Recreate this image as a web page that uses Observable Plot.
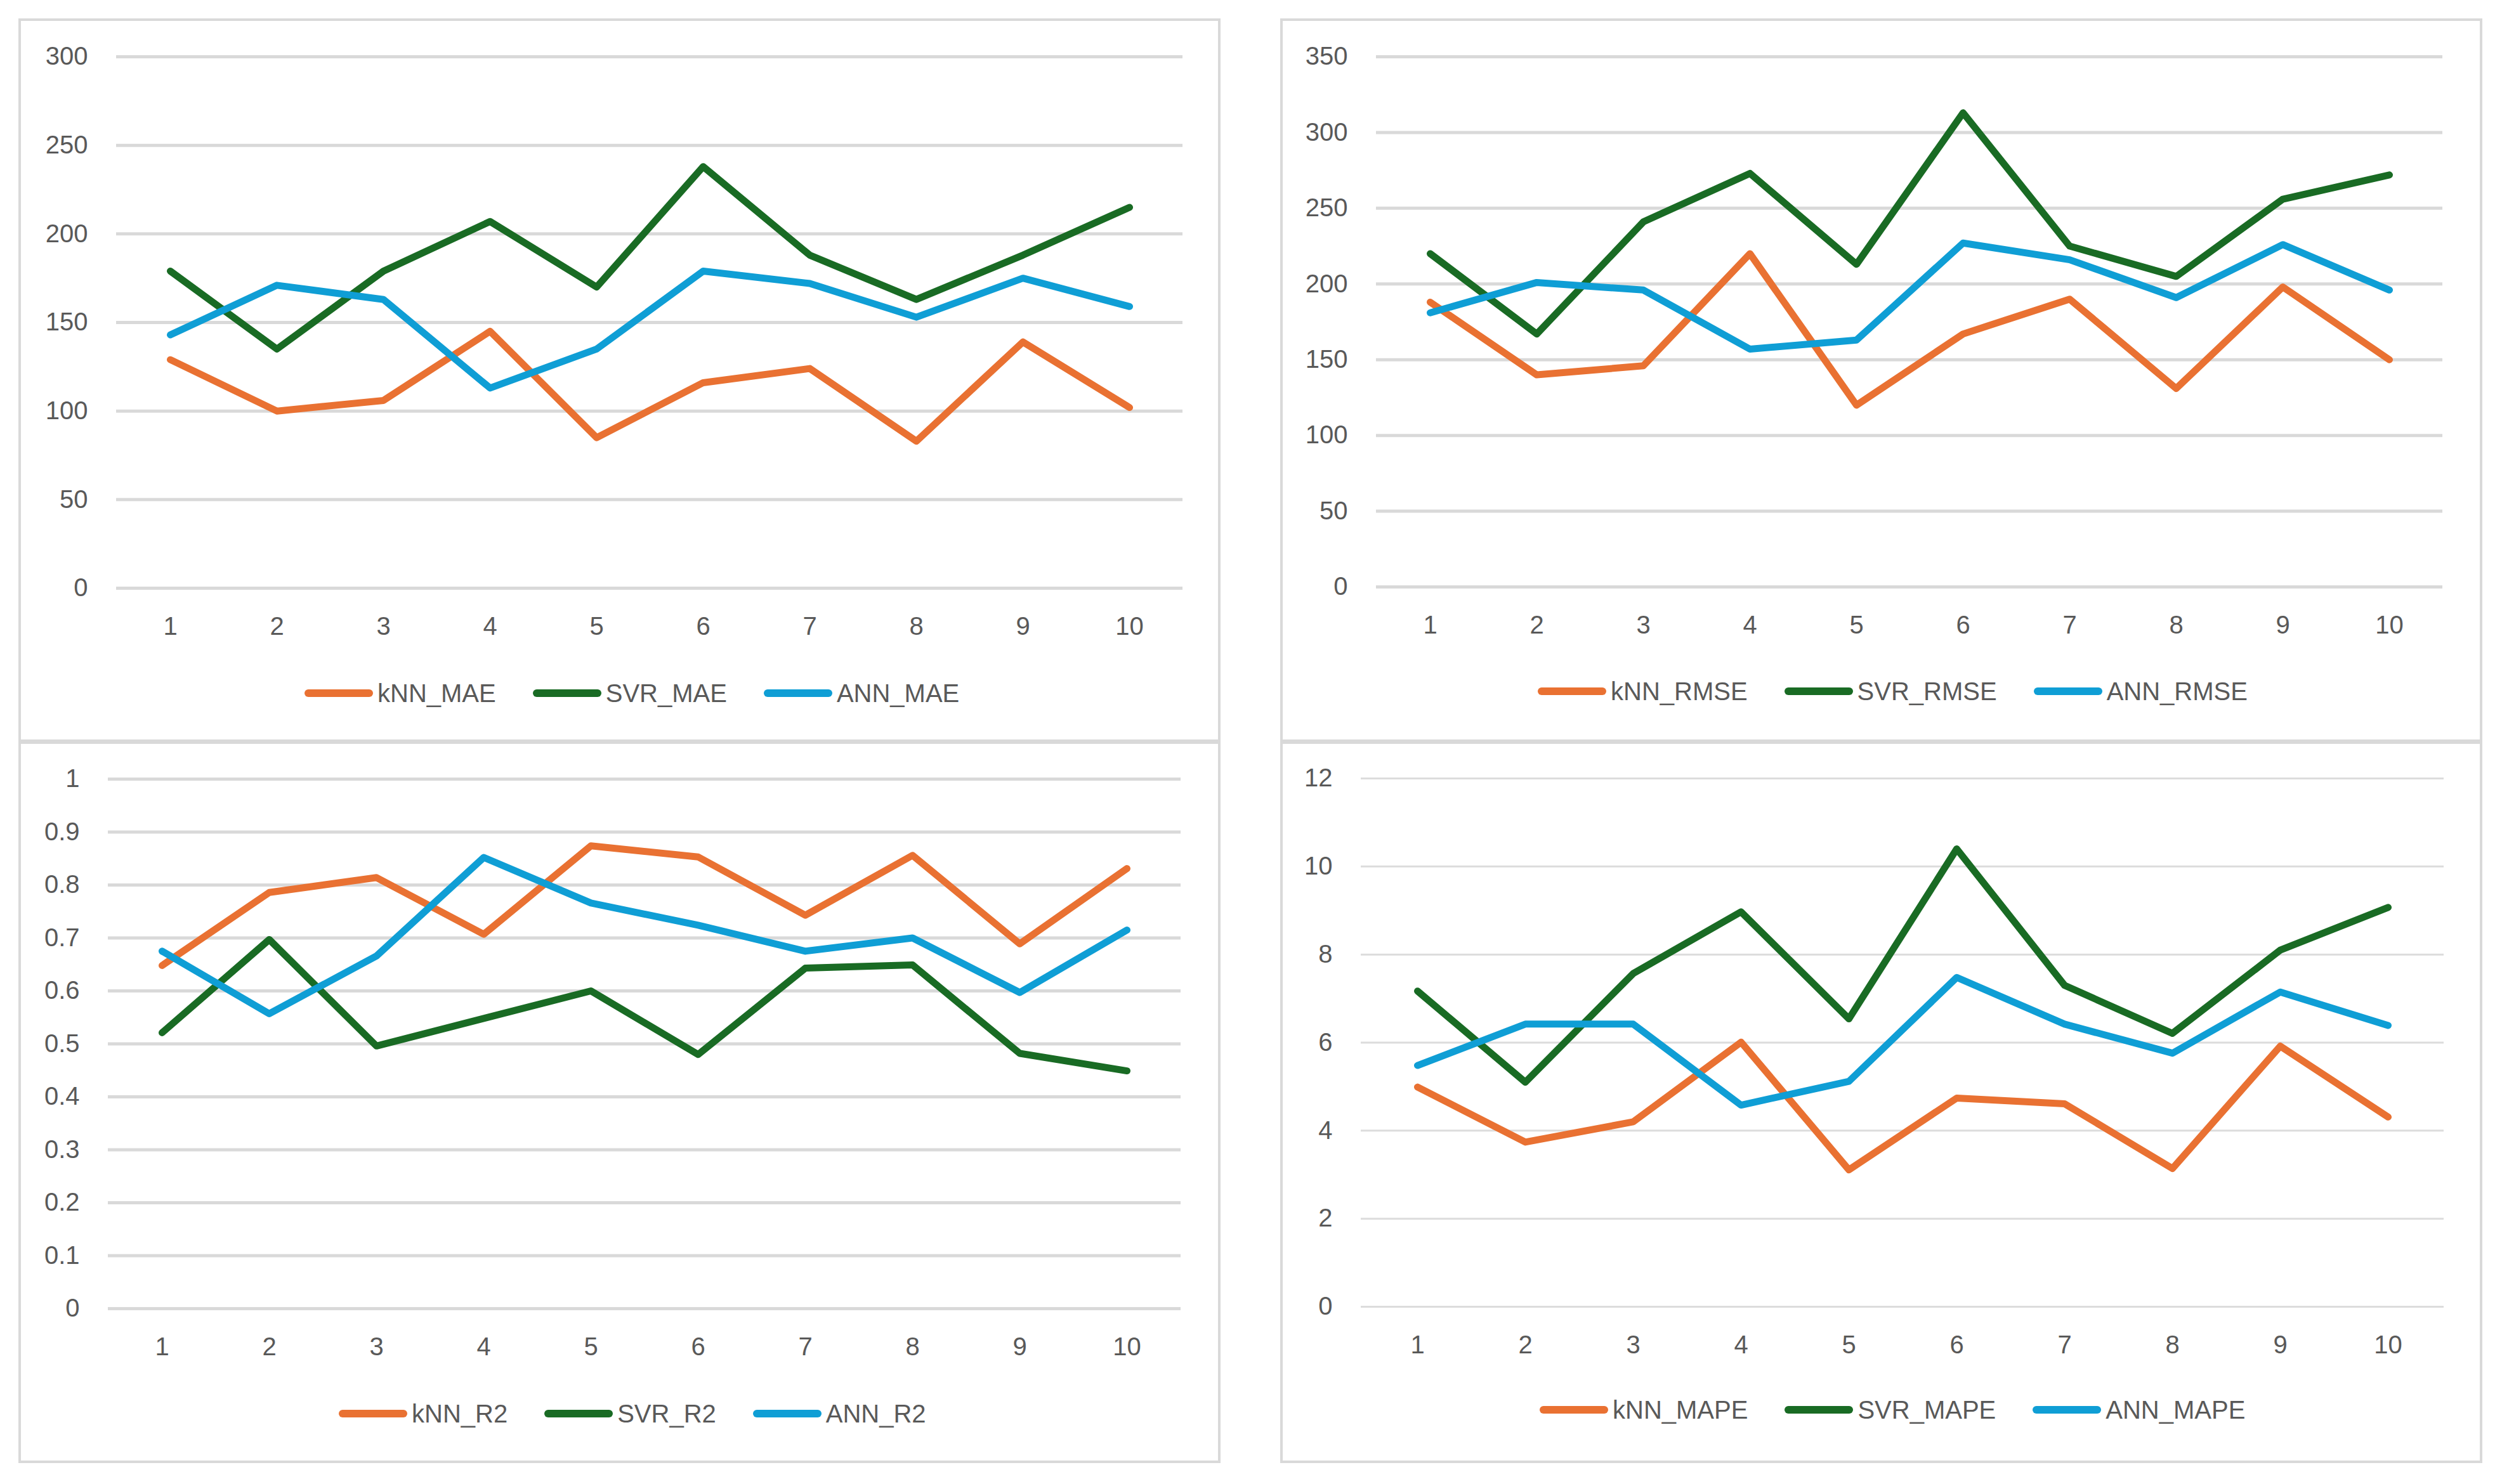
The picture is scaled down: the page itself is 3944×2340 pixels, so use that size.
<!DOCTYPE html>
<html>
<head>
<meta charset="utf-8">
<script src="https://cdn.jsdelivr.net/npm/d3@7"></script>
<script src="https://cdn.jsdelivr.net/npm/@observablehq/plot@0.6"></script>
<style>
  html, body { margin: 0; padding: 0; background: #ffffff; }
  #page { position: relative; width: 3944px; height: 2340px; background: #ffffff; overflow: hidden;
          font-family: "Liberation Sans", Arial, sans-serif; }
  .frame { position: absolute; box-sizing: border-box; border: 4px solid #d9d9d9; }
  .plotbox { position: absolute; }
  .legend { position: absolute; display: flex; align-items: center; height: 50px;
            font-size: 40px; color: #595959; white-space: nowrap; }
  .sw { display: inline-block; width: 108px; height: 12px; border-radius: 6px; margin-right: 7px; }
  .item { display: flex; align-items: center; margin-right: 58px; }
</style>
</head>
<body>
<div id="page"></div>
<script>
// ---------- data ----------
const runs = [1, 2, 3, 4, 5, 6, 7, 8, 9, 10];

const kNN_MAE = [129, 100, 106, 145, 85, 116, 124, 83, 139, 102];
const SVR_MAE = [179, 135, 179, 207, 170, 238, 188, 163, 188, 215];
const ANN_MAE = [143, 171, 163, 113, 135, 179, 172, 153, 175, 159];

const kNN_RMSE = [188, 140, 146, 220, 120, 167, 190, 131, 198, 150];
const SVR_RMSE = [220, 167, 241, 273, 213, 313, 225, 205, 256, 272];
const ANN_RMSE = [181, 201, 196, 157, 163, 227, 216, 191, 226, 196];

const kNN_R2 = [0.648, 0.786, 0.814, 0.707, 0.874, 0.853, 0.743, 0.856, 0.689, 0.831];
const SVR_R2 = [0.521, 0.697, 0.496, 0.548, 0.600, 0.480, 0.643, 0.649, 0.482, 0.449];
const ANN_R2 = [0.675, 0.557, 0.666, 0.852, 0.766, 0.724, 0.675, 0.700, 0.597, 0.715];

const kNN_MAPE = [4.99, 3.74, 4.20, 6.01, 3.11, 4.74, 4.61, 3.14, 5.92, 4.31];
const SVR_MAPE = [7.17, 5.10, 7.57, 8.97, 6.54, 10.40, 7.30, 6.21, 8.10, 9.07];
const ANN_MAPE = [5.48, 6.42, 6.42, 4.58, 5.12, 7.48, 6.42, 5.76, 7.15, 6.39];

const ticksMAE = [0, 50, 100, 150, 200, 250, 300];
const ticksRMSE = [0, 50, 100, 150, 200, 250, 300, 350];
const ticksR2 = [0, 0.1, 0.2, 0.3, 0.4, 0.5, 0.6, 0.7, 0.8, 0.9, 1];
const ticksMAPE = [0, 2, 4, 6, 8, 10, 12];

const models = ["kNN", "SVR", "ANN"];
const colors = ["#E97132", "#196B24", "#0F9ED5"];

// ---------- layout ----------
const panels = [
  { metric: "MAE", series: [kNN_MAE, SVR_MAE, ANN_MAE], ticks: ticksMAE,
    box: [29, 29, 1895, 1141], ml: 154, mr: 60, mt: 60, mb: 102, legend: [480, 1068], grid: [5, "#d9d9d9"] },
  { metric: "RMSE", series: [kNN_RMSE, SVR_RMSE, ANN_RMSE], ticks: ticksRMSE,
    box: [2018, 29, 1895, 1141], ml: 151, mr: 63, mt: 60, mb: 104, legend: [2424, 1065], grid: [5, "#d9d9d9"] },
  { metric: "R2", series: [kNN_R2, SVR_R2, ANN_R2], ticks: ticksR2,
    box: [29, 1169, 1895, 1138], ml: 141, mr: 63, mt: 59, mb: 106, legend: [534, 2204], grid: [5, "#d9d9d9"] },
  { metric: "MAPE", series: [kNN_MAPE, SVR_MAPE, ANN_MAPE], ticks: ticksMAPE,
    box: [2018, 1169, 1895, 1138], ml: 127, mr: 61, mt: 58, mb: 109, legend: [2427, 2198], grid: [3, "#dcdcdc"] }
];

const page = document.getElementById("page");

for (const p of panels) {
  const [left, top, w, h] = p.box;
  const frame = document.createElement("div");
  frame.className = "frame";
  Object.assign(frame.style, { left: left + "px", top: top + "px", width: w + "px", height: h + "px" });
  page.appendChild(frame);

  const rows = [];
  p.series.forEach((vals, i) => {
    vals.forEach((v, j) => rows.push({ model: models[i], run: runs[j], value: v, order: i }));
  });
  const ymax = p.ticks[p.ticks.length - 1];

  const chart = Plot.plot({
    width: w,
    height: 1000,
    marginLeft: p.ml,
    marginRight: p.mr,
    marginTop: p.mt,
    marginBottom: p.mb,
    style: { fontSize: "40px", fontFamily: "'Liberation Sans', Arial, sans-serif", color: "#595959", background: "transparent", overflow: "visible" },
    x: { type: "point", domain: runs, padding: 0.5 },
    y: { domain: [0, ymax], nice: false },
    color: { domain: models, range: colors },
    marks: [
      Plot.ruleY(p.ticks, { stroke: p.grid[1], strokeWidth: p.grid[0] }),
      Plot.axisY({ ticks: p.ticks, tickSize: 0, tickPadding: 45, tickFormat: d => String(d), label: null }),
      Plot.axisX({ ticks: runs, tickSize: 0, tickPadding: 45, tickFormat: d => String(d), label: null }),
      ...models.map((m, i) => Plot.line(rows.filter(r => r.model === m), {
        x: "run", y: "value", stroke: colors[i], strokeWidth: 11,
        strokeLinecap: "round", strokeLinejoin: "round"
      }))
    ]
  });
  const holder = document.createElement("div");
  holder.className = "plotbox";
  Object.assign(holder.style, { left: left + "px", top: top + "px" });
  holder.appendChild(chart);
  page.appendChild(holder);

  const leg = document.createElement("div");
  leg.className = "legend";
  Object.assign(leg.style, { left: p.legend[0] + "px", top: p.legend[1] + "px" });
  models.forEach((m, i) => {
    const item = document.createElement("div");
    item.className = "item";
    const sw = document.createElement("span");
    sw.className = "sw";
    sw.style.background = colors[i];
    const tx = document.createElement("span");
    tx.textContent = m + "_" + p.metric;
    item.appendChild(sw);
    item.appendChild(tx);
    leg.appendChild(item);
  });
  page.appendChild(leg);
}
</script>
</body>
</html>
